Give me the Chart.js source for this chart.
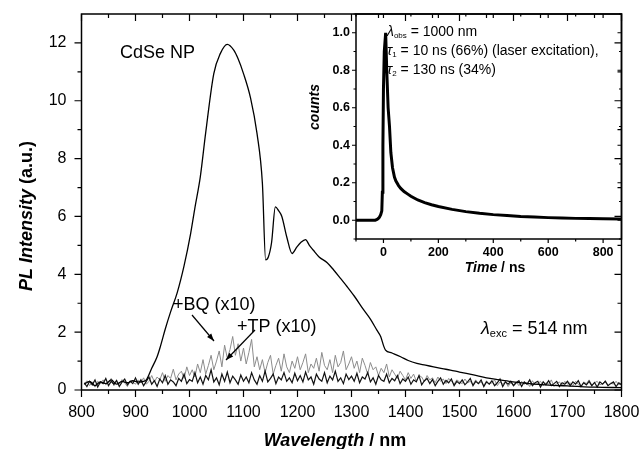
<!DOCTYPE html>
<html>
<head>
<meta charset="utf-8">
<script src="https://cdn.jsdelivr.net/npm/chart.js@4.4.0/dist/chart.umd.min.js"></script>
<style>
    body { margin: 0; background: #fff; }
    #wrap { position: relative; width: 641px; height: 449px; }
    #main { position: absolute; left: 0; top: 0; width: 641px; height: 449px; }
    #inset { position: absolute; left: 300px; top: 0; width: 341px; height: 290px; }
</style>
</head>
<body>
<div id="wrap">
    <div id="main"><canvas id="grafico"></canvas></div>
    <div id="inset"><canvas id="graficoInset"></canvas></div>
</div>
<script>
// espectro CdSe NP (nm, intensidade)
const cdseNm = [805, 815, 825, 835, 845, 855, 865, 875, 885, 895, 905, 915, 920, 930, 940, 946, 955, 965, 977, 990,
    1002, 1010, 1020, 1030, 1045, 1057, 1070, 1082, 1090, 1100, 1113, 1125, 1135, 1141, 1146, 1152, 1159, 1165, 1171, 1180,
    1190, 1199, 1206, 1215, 1222, 1229, 1240, 1255, 1267, 1280, 1292, 1305, 1323, 1335, 1347, 1354, 1360, 1363, 1375, 1391,
    1405, 1421, 1437, 1452, 1468, 1483, 1500, 1526, 1550, 1570, 1592, 1620, 1659, 1700, 1750, 1800];
const cdseInt = [0.2, 0.3, 0.15, 0.28, 0.22, 0.35, 0.2, 0.3, 0.25, 0.32, 0.28, 0.3, 0.35, 0.75, 1.15, 1.5, 2.1, 2.7, 3.35, 4.3,
    5.4, 6.3, 7.37, 8.9, 10.94, 11.63, 11.95, 11.75, 11.45, 10.94, 10.1, 8.87, 7.14, 4.5, 4.6, 5.1, 6.33, 6.2, 6.0, 5.3,
    4.72, 4.95, 5.1, 5.2, 5.0, 4.84, 4.6, 4.4, 4.15, 3.85, 3.57, 3.25, 2.76, 2.45, 2.07, 1.85, 1.5, 1.38, 1.28, 1.15,
    1.02, 0.92, 0.86, 0.8, 0.74, 0.69, 0.62, 0.52, 0.42, 0.36, 0.3, 0.24, 0.18, 0.14, 0.1, 0.08];

// +BQ (x10), cinza, a cada 5 nm a partir de 805 nm
const bqInt = [
    0.2, 0.32, 0.15, 0.28, 0.1, 0.3, 0.22, 0.35, 0.18, 0.25, 0.4, 0.15, 0.3, 0.2, 0.36, 0.25, 0.12, 0.32, 0.28, 0.2,
    0.35, 0.25, 0.42, 0.2, 0.3, 0.5, 0.28, 0.45, 0.35, 0.6, 0.3, 0.5, 0.4, 0.72, 0.35, 0.55, 0.65, 0.4, 0.8, 0.5,
    0.7, 0.45, 0.9, 0.6, 1.05, 0.55, 0.85, 1.2, 0.7, 1.0, 1.35, 0.8, 1.55, 1.1, 1.4, 1.85, 1.2, 1.6, 1.0, 1.45,
    0.9, 1.3, 1.75, 0.8, 1.15, 0.7, 1.05, 0.6, 0.95, 1.2, 0.55, 0.85, 1.1, 0.65, 1.25, 0.8, 0.6, 1.0, 0.75, 1.15,
    0.7, 0.95, 1.25, 0.6, 0.9, 0.75, 1.1, 0.65, 1.3, 0.85, 0.7, 1.05, 0.6, 1.2, 0.8, 0.95, 1.35, 0.7, 0.9, 1.15,
    0.75, 1.0, 0.6, 1.1, 0.85, 0.55, 0.95, 0.7, 0.8, 0.5, 0.75, 0.6, 0.9, 0.45, 0.7, 0.55, 0.4, 0.65, 0.5, 0.35,
    0.6, 0.4, 0.55, 0.3, 0.5, 0.45, 0.28, 0.5, 0.35, 0.42, 0.25, 0.45, 0.3, 0.38, 0.22, 0.4, 0.3, 0.2, 0.35, 0.28,
    0.22, 0.38, 0.25, 0.3, 0.18, 0.35, 0.22, 0.28, 0.15, 0.32, 0.2, 0.25, 0.35, 0.15, 0.28, 0.2, 0.3, 0.12, 0.25, 0.18,
    0.28, 0.15, 0.3, 0.2, 0.25, 0.12, 0.32, 0.18, 0.22, 0.3, 0.15, 0.25, 0.2, 0.35, 0.12, 0.22, 0.28, 0.15, 0.3, 0.2,
    0.25, 0.15, 0.3, 0.2, 0.12, 0.28, 0.22, 0.35, 0.15, 0.25, 0.3, 0.18, 0.22, 0.32, 0.15, 0.25, 0.2, 0.3, 0.18, 0.22];

// +TP (x10), preto
const tpInt = [
    0.25, 0.12, 0.3, 0.18, 0.35, 0.1, 0.28, 0.22, 0.4, 0.15, 0.3, 0.2, 0.33, 0.12, 0.27, 0.38, 0.18, 0.3, 0.22, 0.42,
    0.2, 0.35, 0.15, 0.3, 0.45, 0.2, 0.32, 0.12, 0.38, 0.25, 0.5, 0.2, 0.35, 0.28, 0.15, 0.4, 0.3, 0.55, 0.22, 0.36,
    0.3, 0.6, 0.25, 0.45, 0.2, 0.5, 0.35, 0.7, 0.28, 0.42, 0.18, 0.55, 0.3, 0.62, 0.25, 0.48, 0.35, 0.2, 0.52, 0.3,
    0.45, 0.25, 0.6, 0.35, 0.2, 0.5, 0.3, 0.65, 0.28, 0.4, 0.55, 0.22, 0.45, 0.35, 0.6, 0.3, 0.42, 0.25, 0.58, 0.32,
    0.5, 0.28, 0.62, 0.35, 0.45, 0.2, 0.55, 0.38, 0.3, 0.6, 0.25, 0.48, 0.35, 0.65, 0.3, 0.42, 0.22, 0.55, 0.36, 0.48,
    0.3, 0.58, 0.25, 0.45, 0.38, 0.6, 0.28, 0.42, 0.2, 0.5, 0.35, 0.3, 0.55, 0.25, 0.4, 0.32, 0.5, 0.22, 0.38, 0.3,
    0.45, 0.2, 0.35, 0.28, 0.5, 0.18, 0.32, 0.4, 0.22, 0.36, 0.15, 0.3, 0.42, 0.2, 0.33, 0.25, 0.38, 0.15, 0.3, 0.22,
    0.35, 0.18, 0.28, 0.4, 0.15, 0.3, 0.22, 0.35, 0.12, 0.28, 0.2, 0.32, 0.15, 0.25, 0.38, 0.12, 0.28, 0.2, 0.3, 0.15,
    0.25, 0.32, 0.12, 0.28, 0.2, 0.35, 0.15, 0.25, 0.3, 0.1, 0.28, 0.18, 0.32, 0.15, 0.22, 0.3, 0.12, 0.25, 0.2, 0.3,
    0.15, 0.28, 0.2, 0.32, 0.12, 0.25, 0.18, 0.3, 0.15, 0.26, 0.1, 0.28, 0.2, 0.3, 0.15, 0.22, 0.28, 0.12, 0.25, 0.18];
const ruidoNm = bqInt.map((v, i) => 805 + 5 * i);

const xTicks = [800, 900, 1000, 1100, 1200, 1300, 1400, 1500, 1600, 1700, 1800];
const yTicks = [0, 2, 4, 6, 8, 10, 12];

// inset: decaimento (ns, counts)
const tempoNs = [-100, -90, -80, -70, -60, -50, -40, -30, -25, -20, -15, -10, -6, -4, -2, 0, 3, 8, 12, 17,
    22, 27, 33, 40, 45, 55, 63, 75, 90, 100, 125, 150, 175, 200, 250, 300, 350, 400, 450, 500,
    550, 600, 650, 700, 750, 800, 867];
const contagens = [0, 0, 0, 0, 0, 0, 0, 0, 0.003, 0.008, 0.015, 0.03, 0.05, 0.15, 0.4, 0.7, 0.9, 1.0, 0.8, 0.6,
    0.5, 0.36, 0.28, 0.23, 0.21, 0.185, 0.17, 0.153, 0.138, 0.128, 0.108, 0.094, 0.083, 0.073, 0.058, 0.046, 0.037, 0.03, 0.025, 0.02,
    0.017, 0.014, 0.012, 0.01, 0.009, 0.008, 0.007];
const insetXTicks = [0, 200, 400, 600, 800];
const insetYTicks = [0, 0.2, 0.4, 0.6, 0.8, 1.0];

const fonte = "'Liberation Sans', Arial, sans-serif";

function pontos(xs, ys) {
    return xs.map((x, i) => ({ x: x, y: ys[i] }));
}

// tira o padding extra que o Chart.js coloca por causa dos rótulos
function fixarEixo(tamanho, horizontal) {
    return function (s) {
        if (horizontal) s.height = tamanho; else s.width = tamanho;
        s.paddingLeft = 0; s.paddingRight = 0; s.paddingTop = 0; s.paddingBottom = 0;
    };
}

// escreve pedaços de texto com fontes diferentes, um depois do outro
function textoMisto(ctx, x, y, partes) {
    ctx.textBaseline = 'middle';
    ctx.textAlign = 'left';
    partes.forEach(p => {
        ctx.font = p.f + ' ' + fonte;
        ctx.fillText(p.t, x, y + (p.dy || 0));
        x += ctx.measureText(p.t).width;
    });
}

function seta(ctx, x1, y1, x2, y2) {
    ctx.beginPath();
    ctx.moveTo(x1, y1);
    ctx.lineTo(x2, y2);
    ctx.stroke();
    const ang = Math.atan2(y2 - y1, x2 - x1);
    ctx.beginPath();
    ctx.moveTo(x2, y2);
    ctx.lineTo(x2 - 8 * Math.cos(ang - 0.35), y2 - 8 * Math.sin(ang - 0.35));
    ctx.lineTo(x2 - 8 * Math.cos(ang + 0.35), y2 - 8 * Math.sin(ang + 0.35));
    ctx.closePath();
    ctx.fill();
}

// moldura + ticks maiores e menores nos 4 lados
function molduraPlugin(cfg) {
    return {
        id: 'moldura',
        afterDraw(chart) {
            const ctx = chart.ctx, a = chart.chartArea;
            const sx = chart.scales.x, sy = chart.scales.y;
            ctx.save();
            ctx.strokeStyle = '#000';
            ctx.fillStyle = '#000';
            ctx.lineWidth = 1.5;
            ctx.strokeRect(a.left, a.top, a.right - a.left, a.bottom - a.top);
            ctx.lineWidth = 1.2;
            ctx.beginPath();
            const xt = (v, len) => {
                const p = sx.getPixelForValue(v);
                ctx.moveTo(p, a.bottom); ctx.lineTo(p, a.bottom + len);
                ctx.moveTo(p, a.top); ctx.lineTo(p, a.top + len);
            };
            const yt = (v, len) => {
                const p = sy.getPixelForValue(v);
                ctx.moveTo(a.left, p); ctx.lineTo(a.left - len, p);
                ctx.moveTo(a.right, p); ctx.lineTo(a.right - len, p);
            };
            cfg.xMaj.forEach(v => xt(v, cfg.maj));
            cfg.xMin.forEach(v => xt(v, cfg.min));
            cfg.yMaj.forEach(v => yt(v, cfg.maj));
            cfg.yMin.forEach(v => yt(v, cfg.min));
            ctx.stroke();
            cfg.extra(ctx, chart);
            ctx.restore();
        }
    };
}

const meios = arr => arr.slice(1).map((v, i) => (v + arr[i]) / 2);
const semGrade = { display: false, drawTicks: false, tickLength: 0 };

const configPrincipal = {
    type: 'line',
    data: {
        datasets: [{
            label: 'CdSe NP',
            data: pontos(cdseNm, cdseInt),
            borderColor: '#000',
            borderWidth: 1.3,
            pointRadius: 0,
            cubicInterpolationMode: 'monotone'
        }, {
            label: '+TP (x10)',
            data: pontos(ruidoNm, tpInt),
            borderColor: '#111',
            borderWidth: 1.2,
            pointRadius: 0
        }, {
            label: '+BQ (x10)',
            data: pontos(ruidoNm, bqInt),
            borderColor: '#8c8c8c',
            borderWidth: 1,
            pointRadius: 0
        }]
    },
    options: {
        animation: false,
        responsive: true,
        maintainAspectRatio: false,
        layout: { padding: { top: 14, right: 19.5, left: 0, bottom: 0 } },
        scales: {
            x: {
                type: 'linear', min: 800, max: 1800,
                afterBuildTicks: s => { s.ticks = xTicks.map(v => ({ value: v })); },
                afterFit: fixarEixo(59, true),
                grid: semGrade,
                border: { display: false },
                ticks: { color: '#000', padding: 13, maxRotation: 0, autoSkip: false, callback: v => String(v), font: { size: 16, family: fonte } }
            },
            y: {
                type: 'linear', min: 0, max: 13,
                afterBuildTicks: s => { s.ticks = yTicks.map(v => ({ value: v })); },
                afterFit: fixarEixo(81.5, false),
                grid: semGrade,
                border: { display: false },
                ticks: { color: '#000', padding: 15, callback: v => String(v), font: { size: 16, family: fonte } }
            }
        },
        plugins: { legend: { display: false }, tooltip: { enabled: false } }
    },
    plugins: [molduraPlugin({
        xMaj: xTicks, xMin: meios(xTicks), yMaj: yTicks, yMin: meios(yTicks), maj: 7, min: 4,
        extra: (ctx, chart) => {
            ctx.fillStyle = '#000';
            textoMisto(ctx, 120, 53, [{ t: 'CdSe NP', f: '18px' }]);
            textoMisto(ctx, 173, 305, [{ t: '+BQ (x10)', f: '18px' }]);
            textoMisto(ctx, 237, 327, [{ t: '+TP (x10)', f: '18px' }]);
            textoMisto(ctx, 481, 329, [{ t: 'λ', f: 'italic 18px' }, { t: 'exc', f: '11px', dy: 5 }, { t: ' = 514 nm', f: '18px' }]);
            ctx.lineWidth = 1.2;
            seta(ctx, 192, 315, 214, 341);
            seta(ctx, 255, 330, 226, 360);
            // títulos dos eixos
            ctx.font = 'bold italic 18px ' + fonte;
            const w1 = ctx.measureText('Wavelength').width;
            ctx.font = 'bold 18px ' + fonte;
            const w2 = ctx.measureText(' / nm').width;
            textoMisto(ctx, 335 - (w1 + w2) / 2, 441, [{ t: 'Wavelength', f: 'bold italic 18px' }, { t: ' / nm', f: 'bold 18px' }]);
            ctx.save();
            ctx.translate(27, 216);
            ctx.rotate(-Math.PI / 2);
            ctx.font = 'bold italic 18px ' + fonte;
            const w3 = ctx.measureText('PL Intensity').width;
            ctx.font = 'bold 18px ' + fonte;
            const w4 = ctx.measureText(' (a.u.)').width;
            textoMisto(ctx, -(w3 + w4) / 2, 0, [{ t: 'PL Intensity', f: 'bold italic 18px' }, { t: ' (a.u.)', f: 'bold 18px' }]);
            ctx.restore();
        }
    })]
};

const configInset = {
    type: 'line',
    data: {
        datasets: [{
            label: 'counts',
            data: pontos(tempoNs, contagens),
            borderColor: '#000',
            borderWidth: 3,
            pointRadius: 0,
            tension: 0
        }]
    },
    options: {
        animation: false,
        responsive: true,
        maintainAspectRatio: false,
        layout: { padding: { top: 14, right: 19.5, left: 0, bottom: 0 } },
        scales: {
            x: {
                type: 'linear', min: -100, max: 867,
                afterBuildTicks: s => { s.ticks = insetXTicks.map(v => ({ value: v })); },
                afterFit: fixarEixo(51, true),
                grid: semGrade,
                border: { display: false },
                ticks: { color: '#000', padding: 6, maxRotation: 0, autoSkip: false, callback: v => String(v), font: { size: 12.5, weight: 'bold', family: fonte } }
            },
            y: {
                type: 'linear', min: -0.1, max: 1.1,
                afterBuildTicks: s => { s.ticks = insetYTicks.map(v => ({ value: v })); },
                afterFit: fixarEixo(56, false),
                grid: semGrade,
                border: { display: false },
                ticks: { color: '#000', padding: 6, callback: v => v.toFixed(1), font: { size: 12.5, weight: 'bold', family: fonte } }
            }
        },
        plugins: { legend: { display: false }, tooltip: { enabled: false } }
    },
    plugins: [molduraPlugin({
        xMaj: insetXTicks, xMin: [-100, 100, 300, 500, 700], yMaj: insetYTicks, yMin: [-0.1, 0.1, 0.3, 0.5, 0.7, 0.9, 1.1], maj: 4, min: 2.5,
        extra: (ctx, chart) => {
            ctx.fillStyle = '#000';
            textoMisto(ctx, 87, 32, [{ t: 'λ', f: 'italic 14px' }, { t: 'obs', f: '8px', dy: 4 }, { t: ' = 1000 nm', f: '14px' }]);
            textoMisto(ctx, 87, 51, [{ t: 'τ', f: 'italic 14px' }, { t: '1', f: '8px', dy: 4 }, { t: ' = 10 ns (66%) (laser excitation),', f: '14px' }]);
            textoMisto(ctx, 87, 70, [{ t: 'τ', f: 'italic 14px' }, { t: '2', f: '8px', dy: 4 }, { t: ' = 130 ns (34%)', f: '14px' }]);
            ctx.font = 'bold italic 14px ' + fonte;
            const w1 = ctx.measureText('Time').width;
            ctx.font = 'bold 14px ' + fonte;
            const w2 = ctx.measureText(' / ns').width;
            textoMisto(ctx, 195 - (w1 + w2) / 2, 268, [{ t: 'Time', f: 'bold italic 14px' }, { t: ' / ns', f: 'bold 14px' }]);
            ctx.save();
            ctx.translate(15, 107);
            ctx.rotate(-Math.PI / 2);
            ctx.font = 'bold italic 14px ' + fonte;
            ctx.textAlign = 'center';
            ctx.textBaseline = 'middle';
            ctx.fillText('counts', 0, 0);
            ctx.restore();
        }
    })]
};

new Chart(document.getElementById('grafico'), configPrincipal);
new Chart(document.getElementById('graficoInset'), configInset);
</script>
</body>
</html>
